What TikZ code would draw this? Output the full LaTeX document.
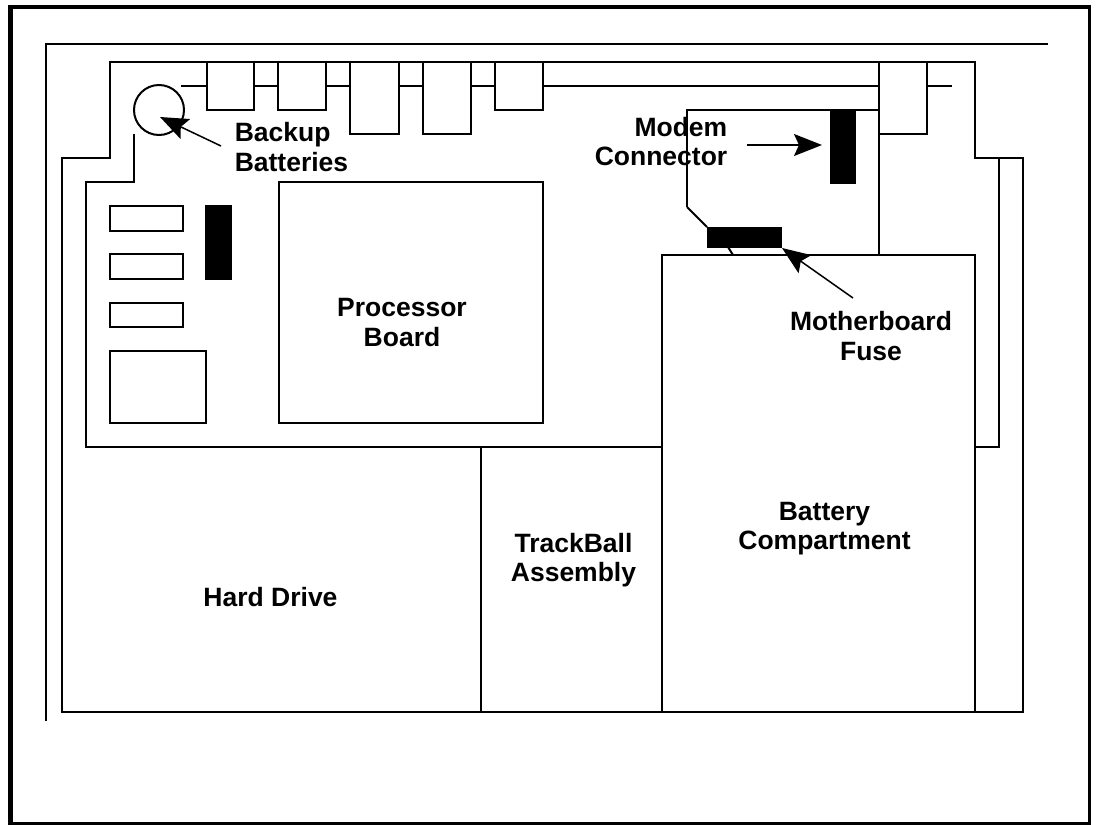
\documentclass[tikz,border=0pt]{standalone}
\usepackage{fontspec}
\setmainfont{Liberation Sans}
\usetikzlibrary{arrows.meta}
\tikzset{
  part/.style={draw, fill=white},
  solidpart/.style={fill=black},
  pointer/.style={line width=1.5pt, -{Stealth[length=28pt, width=22pt, inset=5pt]}},
  callout/.style={font=\fontsize{26.5}{29.5}\selectfont\bfseries, align=center, inner sep=0pt}
}

\begin{document}
\begin{tikzpicture}[x=1pt, y=-1pt, line width=2.8pt]
  \useasboundingbox (0,0) rectangle (1096,825);
  % frame
  \draw[line width=5pt] (10.5,823) -- (10.5,7);
  \draw[line width=4.5pt] (8,7.2) -- (1091,7.2);
  \draw[line width=3pt] (1089.5,5) -- (1089.5,825);
  \draw[line width=2.5pt] (8,823.5) -- (1091,823.5);
  % case
  \draw (46,721) -- (46,44) -- (1048,44);
  \draw (62,712) -- (62,158) -- (110,158) -- (110,62) -- (975,62) -- (975,158) -- (1023,158) -- (1023,712) -- cycle;
  \draw (134,134) -- (134,182) -- (86,182) -- (86,447) -- (999,447) -- (999,158);
  \draw (481,447) -- (481,712);
  % rear connectors
  \draw (181,86) -- (952,86);
  \draw[part] (207,62) rectangle (254,110);
  \draw[part] (278,62) rectangle (326,110);
  \draw[part] (350,62) rectangle (399,134);
  \draw[part] (423,62) rectangle (471,134);
  \draw[part] (495,62) rectangle (543,110);
  \draw[part] (879,62) rectangle (927,134);
  \node[part, circle, line width=2pt, inner sep=0pt, minimum size=50pt] (batt) at (159,110) {};
  % left side parts
  \draw (110,206) rectangle (183,231);
  \draw (110,254) rectangle (183,279);
  \draw (110,303) rectangle (183,327);
  \draw (110,351) rectangle (206,423);
  \fill[solidpart] (205,205) rectangle (232,280);
  \draw (279,182) rectangle (543,423);
  % modem board
  \draw (687,207) -- (687,110) -- (879,110) -- (879,254);
  \draw[line width=2pt] (707,227) -- (687,207);
  \fill[solidpart] (830,110) rectangle (856,184);
  \draw[part] (662,255) rectangle (975,712);
  \draw[line width=2pt] (728,247) -- (733,255);
  \fill[solidpart] (707,227) rectangle (782,248);
  % labels
  \node[callout, align=left] (backup) at (291.5,147) {Backup\\Batteries};
  \node[callout, align=right] (modem) at (661,141.5) {Modem\\Connector};
  \node[callout] (fuse) at (871,336) {Motherboard\\Fuse};
  \node[callout] (proc) at (402,322.5) {Processor\\Board};
  \node[callout] (track) at (573.5,560) {TrackBall\\Assembly};
  \node[callout] (hdd) at (270.5,597) {Hard Drive};
  \node[callout] (bay) at (824.5,528.5) {Battery\\Compartment};
  % arrows
  \coordinate (backupTail) at (221,146);
  \coordinate (backupTip) at (160,117);
  \coordinate (modemTail) at (747,145);
  \coordinate (modemTip) at (822,145);
  \coordinate (fuseTail) at (853,298);
  \coordinate (fuseTip) at (782,248);
  \draw[pointer] (backupTail) -- (backupTip);
  \draw[pointer] (modemTail) -- (modemTip);
  \draw[pointer] (fuseTail) -- (fuseTip);
\end{tikzpicture}
\end{document}
